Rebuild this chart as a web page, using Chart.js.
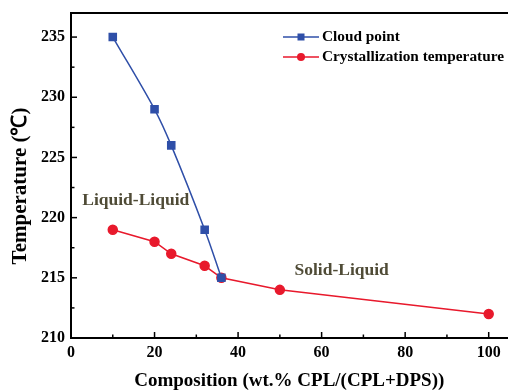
<!DOCTYPE html>
<html>
<head>
<meta charset="utf-8">
<script src="https://cdn.jsdelivr.net/npm/chart.js@4.4.1/dist/chart.umd.min.js"></script>
<style>
html,body{margin:0;padding:0;background:#fff;overflow:hidden;}
#wrap{width:508px;height:392px;position:relative;overflow:hidden;}
</style>
</head>
<body>
<div id="wrap"><canvas id="c" width="514" height="392"></canvas></div>
<script>
// ---- data ----
const cloudX = [10, 20, 24, 32, 36];
const cloudY = [235, 229, 226, 219, 215];
const crystX = [10, 20, 24, 32, 36, 50, 100];
const crystY = [219, 218, 217, 216, 215, 214, 212];
const seriesLabels = ['Cloud point', 'Crystallization temperature'];
const xTickVals = [0, 10, 20, 30, 40, 50, 60, 70, 80, 90, 100];
const xTickLabels = ['0', '', '20', '', '40', '', '60', '', '80', '', '100'];
const yTickVals = [210, 212.5, 215, 217.5, 220, 222.5, 225, 227.5, 230, 232.5, 235];
const yTickLabels = ['210', '', '215', '', '220', '', '225', '', '230', '', '235'];
const xTitle = 'Composition (wt.% CPL/(CPL+DPS))';
const yTitle = 'Temperature (\u2103)';
const regionLabels = ['Liquid-Liquid', 'Solid-Liquid'];
const regionX = [15.5, 64.8];
const regionY = [221.4, 215.6];

const BLUE = '#2f4fa8';
const RED = '#e8192c';
const FONT = '"Liberation Serif", "Times New Roman", serif';

const toPts = (xs, ys) => xs.map((x, i) => ({x: x, y: ys[i]}));

const decor = {
  id: 'decor',
  afterDraw(chart) {
    const ctx = chart.ctx, a = chart.chartArea;
    const xs = chart.scales.x, ys = chart.scales.y;
    ctx.save();
    // top border
    ctx.strokeStyle = '#000'; ctx.lineWidth = 2;
    ctx.beginPath(); ctx.moveTo(a.left - 1, a.top); ctx.lineTo(chart.width, a.top); ctx.stroke();
    // inside ticks
    ctx.lineWidth = 1.5;
    xTickVals.forEach((v, i) => {
      const px = xs.getPixelForValue(v);
      const len = xTickLabels[i] ? 6 : 3.5;
      ctx.beginPath(); ctx.moveTo(px, a.bottom); ctx.lineTo(px, a.bottom - len); ctx.stroke();
    });
    yTickVals.forEach((v, i) => {
      const py = ys.getPixelForValue(v);
      const len = yTickLabels[i] ? 6 : 3.5;
      ctx.beginPath(); ctx.moveTo(a.left, py); ctx.lineTo(a.left + len, py); ctx.stroke();
    });
    // y title
    ctx.save();
    ctx.translate(21, 186);
    ctx.rotate(-Math.PI / 2);
    ctx.fillStyle = '#000';
    ctx.font = 'bold 21px ' + FONT;
    ctx.textAlign = 'center'; ctx.textBaseline = 'middle';
    ctx.fillText(yTitle, 0, 0);
    ctx.restore();
    // region labels
    ctx.fillStyle = '#4f4b36';
    ctx.font = 'bold 17.5px ' + FONT;
    ctx.textAlign = 'center'; ctx.textBaseline = 'middle';
    regionLabels.forEach((t, i) => {
      ctx.fillText(t, xs.getPixelForValue(regionX[i]), ys.getPixelForValue(regionY[i]));
    });
    // legend
    const lx = a.left + 212, ly = a.top + 24, gap = 20;
    chart.data.datasets.forEach((ds, i) => {
      const y = ly + i * gap;
      ctx.strokeStyle = ds.borderColor; ctx.lineWidth = 1.5;
      ctx.beginPath(); ctx.moveTo(lx, y); ctx.lineTo(lx + 36, y); ctx.stroke();
      ctx.fillStyle = ds.backgroundColor;
      if (ds.pointStyle === 'rect') {
        ctx.fillRect(lx + 18 - 3.5, y - 3.5, 7, 7);
      } else {
        ctx.beginPath(); ctx.arc(lx + 18, y, 4, 0, Math.PI * 2); ctx.fill();
      }
      ctx.fillStyle = '#000';
      ctx.font = 'bold 15.3px ' + FONT;
      ctx.textAlign = 'left'; ctx.textBaseline = 'middle';
      ctx.fillText(ds.label, lx + 39, y);
    });
    ctx.restore();
  }
};

new Chart(document.getElementById('c'), {
  type: 'scatter',
  data: {
    datasets: [
      {
        label: seriesLabels[0],
        data: toPts(cloudX, cloudY),
        showLine: true,
        borderColor: BLUE, backgroundColor: BLUE,
        borderWidth: 1.5,
        pointStyle: 'rect', pointRadius: 5, pointHoverRadius: 5,
        tension: 0.35
      },
      {
        label: seriesLabels[1],
        data: toPts(crystX, crystY),
        showLine: true,
        borderColor: RED, backgroundColor: RED,
        borderWidth: 1.5,
        pointStyle: 'circle', pointRadius: 4.5, pointHoverRadius: 4.5,
        tension: 0
      }
    ]
  },
  options: {
    responsive: false,
    animation: false,
    layout: {padding: {top: 13, right: 0, left: 0, bottom: 0}},
    plugins: {legend: {display: false}, tooltip: {enabled: false}},
    scales: {
      x: {
        type: 'linear', min: 0, max: 104.5,
        grid: {display: false, drawTicks: false},
        border: {display: true, color: '#000', width: 2},
        afterBuildTicks: s => { s.ticks = xTickVals.map(v => ({value: v})); },
        ticks: {
          padding: 5, color: '#000', maxRotation: 0, autoSkip: false,
          font: {family: FONT, weight: 'bold', size: 16},
          callback: (v, i) => xTickLabels[i]
        },
        title: {display: true, text: xTitle, color: '#000',
          font: {family: FONT, weight: 'bold', size: 19}, padding: {top: 2, bottom: 0}},
        afterFit: s => { s.height = 54; }
      },
      y: {
        type: 'linear', min: 210, max: 237,
        grid: {display: false, drawTicks: false},
        border: {display: true, color: '#000', width: 2},
        afterBuildTicks: s => { s.ticks = yTickVals.map(v => ({value: v})); },
        ticks: {
          padding: 6, color: '#000', autoSkip: false,
          font: {family: FONT, weight: 'bold', size: 16},
          callback: (v, i) => yTickLabels[i]
        },
        title: {display: false},
        afterFit: s => { s.width = 71; s.paddingTop = 0; s.paddingBottom = 0; }
      }
    }
  },
  plugins: [decor]
});
</script>
</body>
</html>
